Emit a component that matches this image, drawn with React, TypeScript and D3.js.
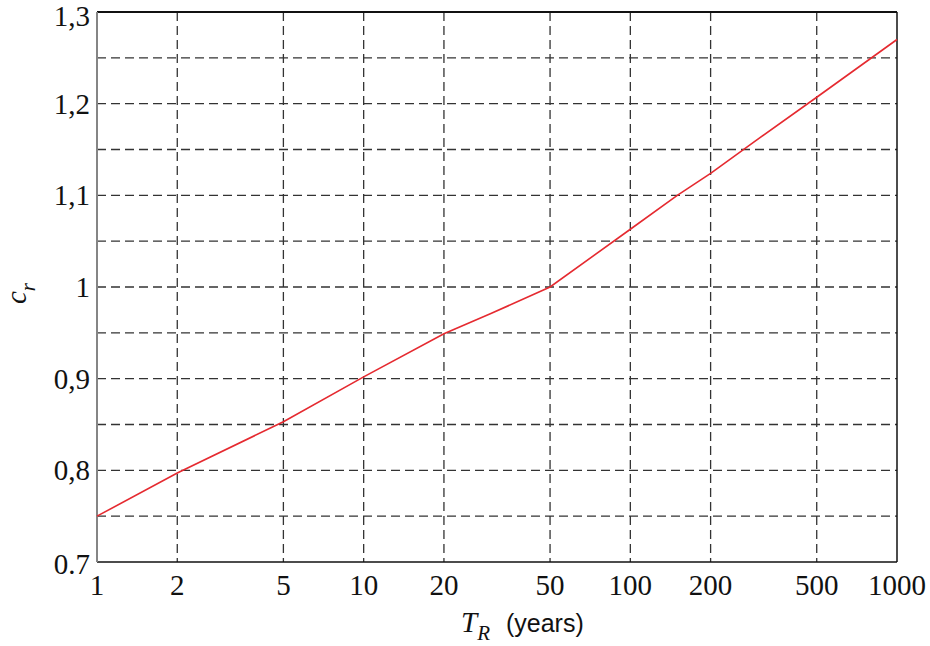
import React, { useEffect, useRef } from 'react';
import * as d3 from 'd3';

// return period (years) and factor c_r
const periods = [1, 2, 5, 10, 20, 30, 50, 100, 150, 200, 300, 500, 1000];
const crValues = [0.75, 0.797, 0.853, 0.902, 0.949, 0.971, 1.0, 1.063, 1.1, 1.124, 1.161, 1.207, 1.27];

const xTicks = [1, 2, 5, 10, 20, 50, 100, 200, 500, 1000];
const yTicks = [0.7, 0.8, 0.9, 1.0, 1.1, 1.2, 1.3];
const yTickLabels = ['0.7', '0,8', '0,9', '1', '1,1', '1,2', '1,3'];
const yGrid = [0.75, 0.8, 0.85, 0.9, 0.95, 1.0, 1.05, 1.1, 1.15, 1.2, 1.25];

const W = 930;
const H = 646;
const margin = { top: 12, right: 33, bottom: 84, left: 97 };

const App = () => {
  const svgRef = useRef<SVGSVGElement>(null);

  useEffect(() => {
    const svg = d3.select(svgRef.current);
    svg.selectAll('*').remove();

    const cw = W - margin.left - margin.right;
    const ch = H - margin.top - margin.bottom;

    const x = d3.scaleLog().domain([1, 1000]).range([0, cw]);
    const y = d3.scaleLinear().domain([0.7, 1.3]).range([ch, 0]);

    const g = svg.append('g').attr('transform', `translate(${margin.left},${margin.top})`);

    // grid
    g.selectAll('.vgrid')
      .data(xTicks.slice(1, -1))
      .enter().append('line')
      .attr('x1', d => x(d)).attr('x2', d => x(d))
      .attr('y1', 0).attr('y2', ch)
      .attr('stroke', '#333')
      .attr('stroke-width', 1.3)
      .attr('stroke-dasharray', '9,5');

    g.selectAll('.hgrid')
      .data(yGrid)
      .enter().append('line')
      .attr('x1', 0).attr('x2', cw)
      .attr('y1', d => y(d)).attr('y2', d => y(d))
      .attr('stroke', '#333')
      .attr('stroke-width', 1.3)
      .attr('stroke-dasharray', '9,5');

    // frame
    g.append('line').attr('x1', 0).attr('x2', cw).attr('y1', 0).attr('y2', 0)
      .attr('stroke', '#111').attr('stroke-width', 2);
    g.append('line').attr('x1', cw).attr('x2', cw).attr('y1', 0).attr('y2', ch)
      .attr('stroke', '#111').attr('stroke-width', 1.5);
    g.append('line').attr('x1', 0).attr('x2', cw).attr('y1', ch).attr('y2', ch)
      .attr('stroke', '#111').attr('stroke-width', 1.5);
    g.append('line').attr('x1', 0).attr('x2', 0).attr('y1', 0).attr('y2', ch)
      .attr('stroke', '#858585').attr('stroke-width', 2);

    // curve
    const line = d3.line<number>()
      .x((_, i) => x(periods[i]))
      .y(d => y(d));
    g.append('path')
      .datum(crValues)
      .attr('d', line)
      .attr('fill', 'none')
      .attr('stroke', '#e52a30')
      .attr('stroke-width', 1.6);

    const serif = '"Liberation Serif", "Times New Roman", serif';

    // x tick labels
    g.selectAll('.xlab')
      .data(xTicks)
      .enter().append('text')
      .attr('x', d => x(d))
      .attr('y', ch + 33)
      .attr('text-anchor', 'middle')
      .attr('font-family', serif)
      .attr('font-size', 29)
      .attr('fill', '#111')
      .text(d => String(d));

    // y tick labels
    g.selectAll('.ylab')
      .data(yTicks)
      .enter().append('text')
      .attr('x', -7)
      .attr('y', (d, i) => y(d) + (i === 0 ? 12 : i === yTicks.length - 1 ? 14 : 10))
      .attr('text-anchor', 'end')
      .attr('font-family', serif)
      .attr('font-size', 29)
      .attr('fill', '#111')
      .text((_, i) => yTickLabels[i]);

    // x axis title
    const xt = svg.append('text')
      .attr('x', 461)
      .attr('y', 632)
      .attr('fill', '#111');
    xt.append('tspan')
      .attr('font-family', serif)
      .attr('font-style', 'italic')
      .attr('font-size', 29)
      .text('T');
    xt.append('tspan')
      .attr('font-family', serif)
      .attr('font-style', 'italic')
      .attr('font-size', 21)
      .attr('dy', 8)
      .text('R');
    xt.append('tspan')
      .attr('font-family', '"Liberation Sans", Arial, sans-serif')
      .attr('font-size', 25)
      .attr('dy', -8)
      .attr('dx', 16)
      .text('(years)');

    // y axis title
    const yt = svg.append('text')
      .attr('transform', 'translate(26,304) rotate(-90)')
      .attr('fill', '#111');
    yt.append('tspan')
      .attr('font-family', serif)
      .attr('font-style', 'italic')
      .attr('font-size', 29)
      .text('c');
    yt.append('tspan')
      .attr('font-family', serif)
      .attr('font-style', 'italic')
      .attr('font-size', 21)
      .attr('dy', 9)
      .text('r');
  }, []);

  return (
    <svg
      ref={svgRef}
      width={W}
      height={H}
      style={{ position: 'absolute', left: 0, top: 0, background: '#fff' }}
    />
  );
};

export default App;
